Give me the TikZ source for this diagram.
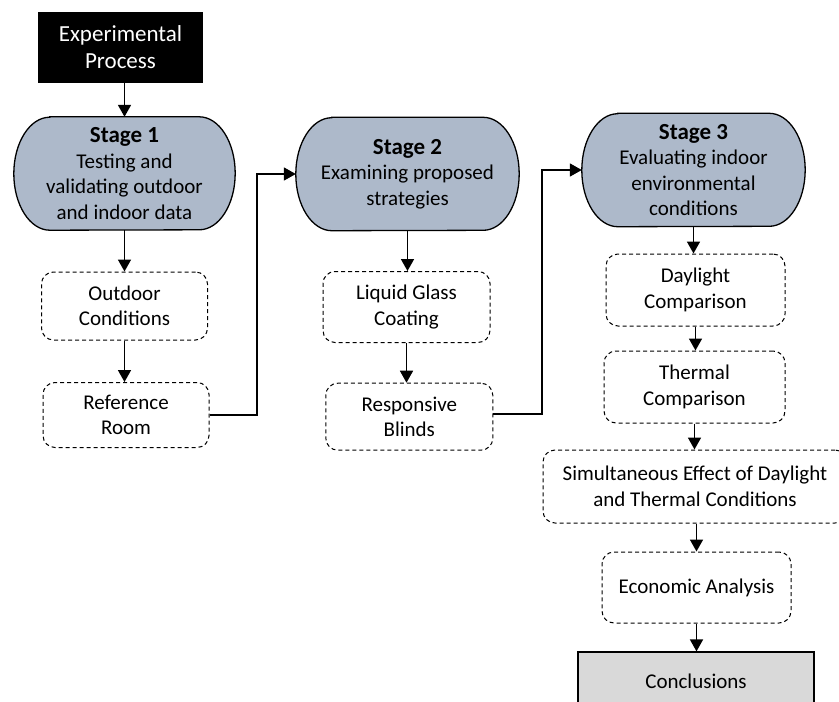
\documentclass[tikz,border=0pt]{standalone}
\usepackage{fontspec}
\setmainfont{Carlito}
\usetikzlibrary{arrows.meta,backgrounds,calc}
\definecolor{stagec}{HTML}{ADB9CA}
\definecolor{conclc}{HTML}{D9D9D9}
\newcommand\stagebg[2]{%
  \path[stageshape] ([xshift=36pt]#1.north west) -- ([xshift=-36pt]#1.north east)
    arc[start angle=90,end angle=-90,x radius=36pt,y radius=#2pt]
    -- ([xshift=36pt]#1.south west)
    arc[start angle=270,end angle=90,x radius=36pt,y radius=#2pt] -- cycle;}
\newcommand\stagetitle[1]{{\fontsize{23}{25.5}\selectfont\bfseries #1}}
\begin{document}
\begin{tikzpicture}[x=1pt,y=-1pt,
  every node/.style={font=\fontsize{21}{25.5}\selectfont, align=center, inner sep=0pt},
  startbox/.style={fill=black, text=white, minimum width=165pt, minimum height=71pt,
    font=\fontsize{23}{27}\selectfont},
  stagenode/.style={minimum width=#1pt, minimum height=113pt},
  stageshape/.style={fill=stagec, draw=black, line width=1.3pt},
  dbox/.style={draw=black, line width=1pt, dash pattern=on 4pt off 3pt,
    rounded corners=12pt},
  concbox/.style={draw=black, fill=conclc, line width=1.2pt},
  arr/.style={line width=1.7pt, -{Triangle[length=12pt,width=13pt]}}]
\useasboundingbox (0,0) rectangle (839,702);
\clip (0,0) rectangle (839,702);

\node[startbox] (exp) at (120.5,47.5) {Experimental\\Process};

\node[stagenode=221] (s1) at (124.5,173.5) {\stagetitle{Stage 1}\\Testing and\\validating outdoor\\and indoor data};
\node[stagenode=223] (s2) at (407.5,174) {\stagetitle{Stage 2}\\Examining proposed\\strategies};
\node[stagenode=223] (s3) at (693.5,170) {\stagetitle{Stage 3}\\Evaluating indoor\\environmental\\conditions};
\begin{pgfonlayer}{background}
  \stagebg{s1}{56.5}
  \stagebg{s2}{56.5}
  \stagebg{s3}{56.5}
\end{pgfonlayer}

\node[dbox, minimum width=166pt, minimum height=68pt] (out) at (124.5,306) {Outdoor\\Conditions};
\node[dbox, minimum width=166pt, minimum height=65pt] (ref) at (126,415) {Reference\\Room};
\node[dbox, minimum width=167pt, minimum height=71pt] (liq) at (406.5,307) {Liquid Glass\\Coating};
\node[dbox, minimum width=167pt, minimum height=67pt] (resp) at (409.3,416.7) {Responsive\\Blinds};

\node[dbox, minimum width=179pt, minimum height=72pt] (day) at (695.5,290) {Daylight\\Comparison};
\node[dbox, minimum width=181pt, minimum height=72pt] (the) at (694.5,387) {Thermal\\Comparison};
\node[dbox, minimum width=304pt, minimum height=73pt] (sim) at (695,486.5) {Simultaneous Effect of Daylight\\and Thermal Conditions};
\node[dbox, minimum width=189pt, minimum height=71pt] (eco) at (696.5,587.5) {Economic Analysis};
\node[concbox, minimum width=236pt, minimum height=58pt] (conc) at (696,681) {Conclusions};

\coordinate (j1) at (256.7,0);
\coordinate (j2) at (541.7,0);

\draw[arr] (exp.south -| s1.north) -- (s1.north);
\draw[arr] (s1.south) -- (s1.south |- out.north);
\draw[arr] (out.south) -- (out.south |- ref.north);
\draw[arr] (ref.east) -- (ref.east -| j1) |- (s2.west);
\draw[arr] (s2.south) -- (s2.south |- liq.north);
\draw[arr] (liq.south) -- (liq.south |- resp.north);
\draw[arr] ([yshift=3pt]resp.east) -- ([yshift=3pt]resp.east -| j2) |- (s3.west);
\draw[arr] (s3.south) -- (s3.south |- day.north);
\draw[arr] (day.south) -- (day.south |- the.north);
\draw[arr] (the.south) -- (the.south |- sim.north);
\draw[arr] (sim.south -| eco.north) -- (eco.north);
\draw[arr] (eco.south) -- (eco.south |- conc.north);
\end{tikzpicture}
\end{document}
